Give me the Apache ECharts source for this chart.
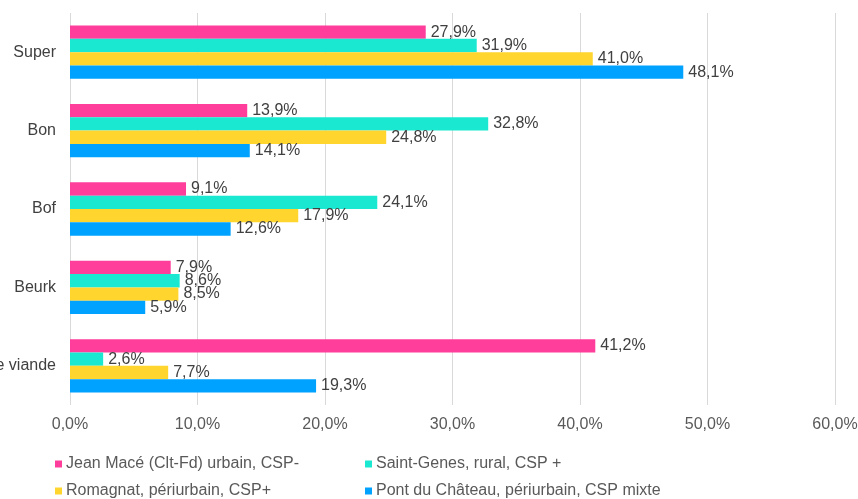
<!DOCTYPE html>
<html lang="fr">
<head>
  <meta charset="UTF-8">
  <title>Viande</title>
  <style>
    html, body { margin: 0; padding: 0; background: #fff; }
  </style>
</head>
<body>
  <div id="main" style="width: 858px;height:499px;"></div>
  <script src="https://cdn.jsdelivr.net/npm/echarts@6/dist/echarts.min.js"></script>
  <script type="text/javascript">
    // categories, top to bottom
    var categories = ['Super', 'Bon', 'Bof', 'Beurk', 'Pas de viande'];
    var seriesNames = [
      'Jean Macé (Clt-Fd) urbain, CSP-',
      'Saint-Genes, rural, CSP +',
      'Romagnat, périurbain, CSP+',
      'Pont du Château, périurbain, CSP mixte'
    ];
    var jeanMace = [27.9, 13.9, 9.1, 7.9, 41.2];
    var saintGenes = [31.9, 32.8, 24.1, 8.6, 2.6];
    var romagnat = [41.0, 24.8, 17.9, 8.5, 7.7];
    var pontChateau = [48.1, 14.1, 12.6, 5.9, 19.3];
    var colors = ['#FF3E9B', '#1AE8D0', '#FFD52E', '#00A2FF'];

    var myChart = echarts.init(document.getElementById('main'));
    var fontFam = '"Liberation Sans", Arial, sans-serif';

    function pct(v) {
      return v.toFixed(1).replace('.', ',') + '%';
    }

    function makeSeries(name, data, i) {
      return {
        name: name,
        type: 'bar',
        data: data,
        barGap: '0%',
        barCategoryGap: '32%',
        itemStyle: { color: colors[i] },
        label: {
          show: true,
          position: 'right',
          distance: 5,
          color: '#404040',
          fontSize: 16,
          fontFamily: fontFam,
          formatter: function (p) { return pct(p.value); }
        },
        emphasis: { disabled: true },
        animation: false
      };
    }

    function legendAt(idx, left, top) {
      return {
        data: [seriesNames[idx]],
        left: left,
        top: top,
        icon: 'rect',
        itemWidth: 7,
        itemHeight: 7,
        itemGap: 2,
        padding: 0,
        selectedMode: false,
        textStyle: { color: '#595959', fontSize: 16, fontFamily: fontFam, padding: [0, 0, 0, -1] }
      };
    }

    var option = {
      backgroundColor: '#fff',
      grid: { left: 70, right: 23, top: 13, bottom: 94, outerBoundsMode: 'none', containLabel: false },
      legend: [
        legendAt(0, 55, 456),
        legendAt(1, 365, 456),
        legendAt(2, 55, 483),
        legendAt(3, 365, 483)
      ],
      xAxis: {
        type: 'value',
        min: 0,
        max: 60,
        interval: 10,
        axisLine: { show: false },
        axisTick: { show: false },
        splitLine: { lineStyle: { color: '#d9d9d9', width: 1 } },
        axisLabel: {
          color: '#595959',
          fontSize: 16,
          fontFamily: fontFam,
          margin: 12,
          formatter: function (v) { return pct(v); }
        }
      },
      yAxis: {
        type: 'category',
        inverse: true,
        data: categories,
        axisLine: { show: false },
        axisTick: { show: false },
        axisLabel: {
          color: '#404040',
          fontSize: 16,
          fontFamily: fontFam,
          margin: 14
        }
      },
      series: [
        makeSeries(seriesNames[0], jeanMace, 0),
        makeSeries(seriesNames[1], saintGenes, 1),
        makeSeries(seriesNames[2], romagnat, 2),
        makeSeries(seriesNames[3], pontChateau, 3)
      ]
    };

    myChart.setOption(option);
  </script>
</body>
</html>
